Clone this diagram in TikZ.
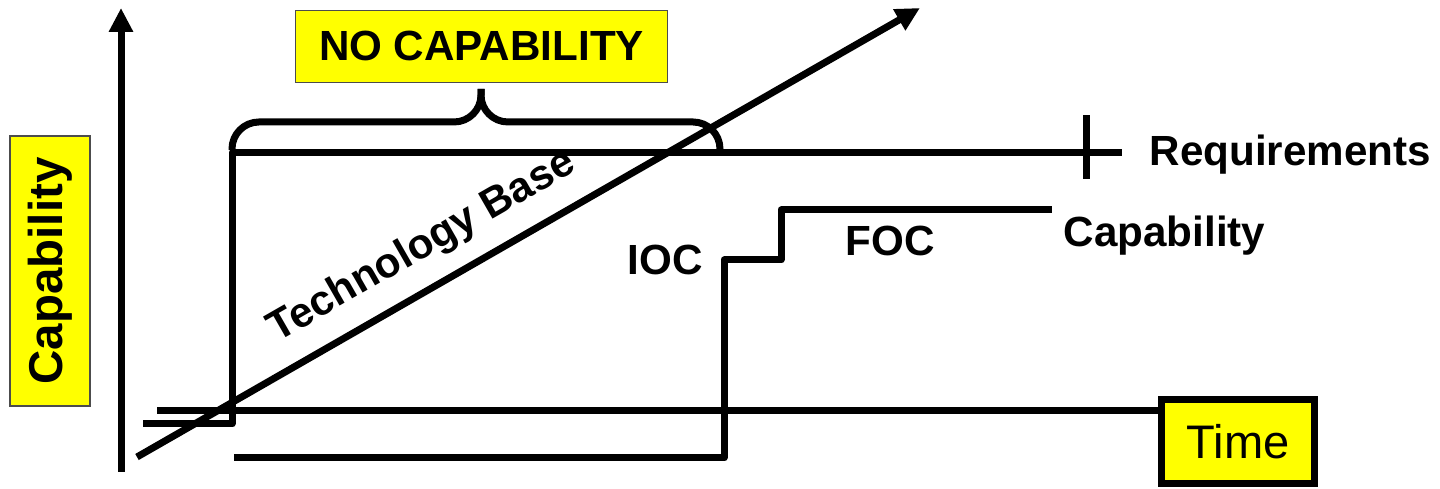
\documentclass[tikz,border=0pt]{standalone}
\usepackage{fontspec}
\setmainfont{Liberation Sans}
\usetikzlibrary{arrows.meta}
\definecolor{hiyellow}{RGB}{255,255,0}
\tikzset{
    heavy/.style={line width=0.07cm, line join=round},
    tip/.style={-{Triangle[length=0.24cm,width=0.23cm]}},
    tag/.style={font=\fontsize{12}{14}\selectfont\bfseries, inner sep=0pt},
    ybox/.style={fill=hiyellow, draw=black!70, line width=0.5pt, font=\fontsize{13.5}{16}\selectfont\bfseries}
}
\begin{document}
\begin{tikzpicture}
    \useasboundingbox (0,0) rectangle (14.40,4.89);
    \coordinate (ybot) at (1.21,0.17);
    \coordinate (ytop) at (1.21,4.81);
    \coordinate (tb0) at (1.37,0.32);
    \coordinate (tb1) at (9.20,4.81);
    \coordinate (rq0) at (1.43,0.65);
    \coordinate (rq1) at (11.22,3.36);
    \coordinate (cp0) at (2.34,0.31);
    \coordinate (cp1) at (10.52,2.79);
    \coordinate (tm0) at (1.57,0.78);
    \node[ybox, rotate=90, minimum width=2.70cm, minimum height=0.80cm] (cap) at (0.50,2.18) {Capability};
    \node[ybox, font=\fontsize{12}{14}\selectfont\bfseries, minimum width=3.72cm, minimum height=0.72cm] (nocap) at (4.815,4.425) {NO CAPABILITY};
    \node[ybox, draw=black, line width=0.07cm, font=\fontsize{13.4}{16}\selectfont, minimum width=1.53cm, minimum height=0.84cm] (time) at (12.38,0.475) {Time};
    \draw[heavy, tip] (ybot) -- (ytop);
    \draw[heavy] (tm0) -- (tm0 -| time.west);
    \draw[heavy] (rq0) -| (2.32,3.36) -- (rq1);
    \draw[heavy] (10.86,3.10) -- (10.86,3.74);
    \draw[heavy] (cp0) -| (7.24,2.29) -| (7.81,2.79) -- (cp1);
    \draw[heavy, rounded corners=0.27cm] (2.32,3.39) |- (4.81,3.67) -- (4.81,4.00);
    \draw[heavy, rounded corners=0.27cm] (7.20,3.39) |- (4.81,3.67) -- (4.81,4.00);
    \draw[heavy, tip] (tb0) -- node[tag, sloped, above, pos=0.39, inner sep=0.17cm] (tbase) {Technology Base} (tb1);
    \node[tag, anchor=base west] (ioc) at (6.27,2.14) {IOC};
    \node[tag, anchor=base west] (foc) at (8.45,2.33) {FOC};
    \node[tag, anchor=base west] (capl) at (10.63,2.42) {Capability};
    \node[tag, anchor=base west] (req) at (11.49,3.23) {Requirements};
\end{tikzpicture}
\end{document}
